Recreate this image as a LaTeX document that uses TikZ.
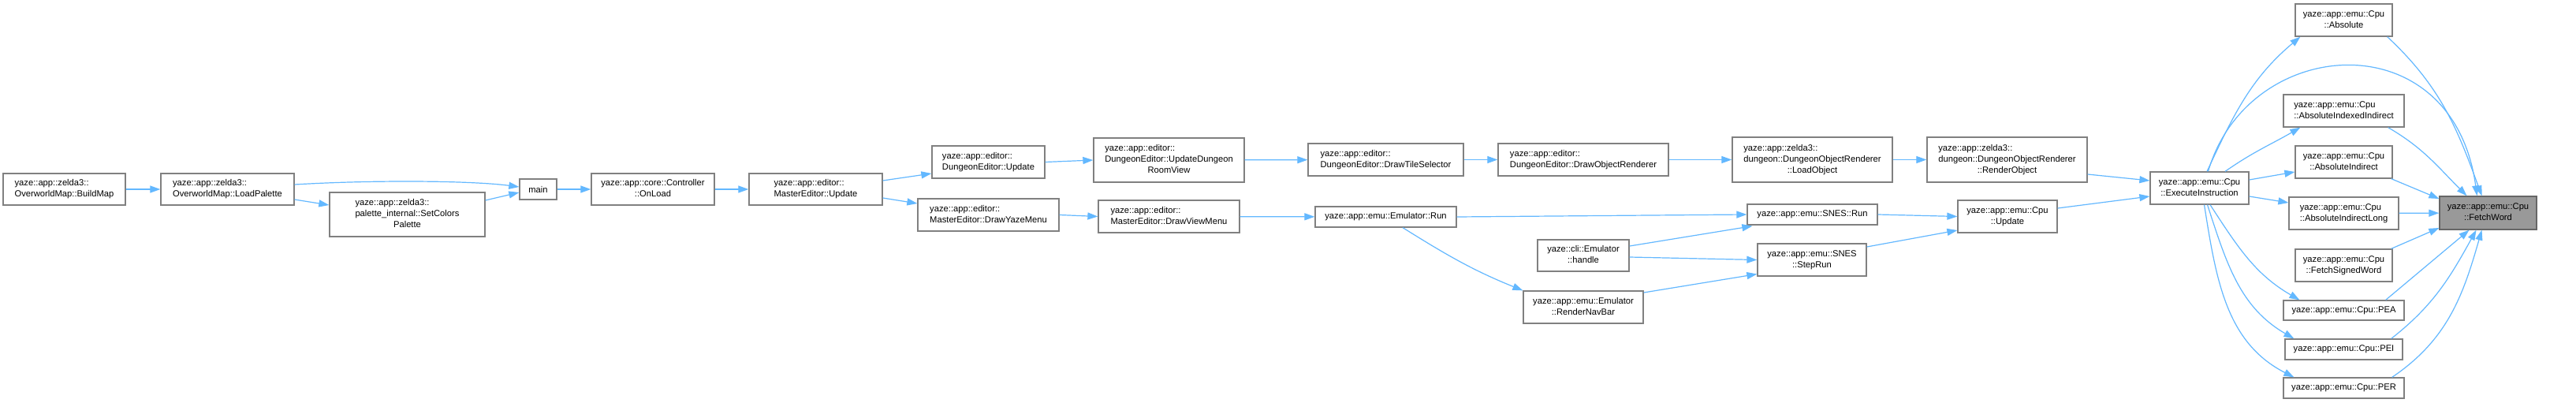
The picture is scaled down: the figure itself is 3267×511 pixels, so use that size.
\documentclass[tikz,border=0pt]{standalone}
\usepackage{fontspec}
\setmainfont{Liberation Sans}
\usetikzlibrary{arrows.meta,calc}
\definecolor{eblue}{HTML}{63B8FF}
\definecolor{bgray}{HTML}{808080}
\definecolor{fgray}{HTML}{999999}
\definecolor{dgray}{HTML}{666666}
\newcommand{\lbtwo}[2]{\begin{tabular}{@{}l@{}}#1\\\multicolumn{1}{@{}c@{}}{#2}\end{tabular}}
\newcommand{\lbthree}[3]{\begin{tabular}{@{}l@{}}#1\\#2\\\multicolumn{1}{@{}c@{}}{#3}\end{tabular}}
\begin{document}
\begin{tikzpicture}[x=1pt,y=-1pt,
  cbox/.style={draw=bgray, line width=1.3pt, fill=white, inner sep=0pt, font=\fontsize{11.2}{14}\selectfont},
  call/.style={draw=eblue, line width=1.2pt, -{Triangle[length=13pt,width=9pt]}},
]
\fill[white] (0,0) rectangle (3267,511);
\useasboundingbox (0,0) rectangle (3267,511);

\node[cbox, minimum width=155pt, minimum height=40pt] (buildmap) at (81.5,240) {\lbtwo{yaze::app::zelda3::}{OverworldMap::BuildMap}};
\node[cbox, minimum width=169pt, minimum height=40pt] (loadpal) at (288.5,240) {\lbtwo{yaze::app::zelda3::}{OverworldMap::LoadPalette}};
\node[cbox, minimum width=197pt, minimum height=56pt] (setcolors) at (516.5,272) {\lbthree{yaze::app::zelda3::}{palette\_internal::SetColors}{Palette}};
\node[cbox, minimum width=47pt, minimum height=26pt] (main) at (682.5,240) {main};
\node[cbox, minimum width=156pt, minimum height=40pt] (onload) at (828,240) {\lbtwo{yaze::app::core::Controller}{::OnLoad}};
\node[cbox, minimum width=169pt, minimum height=40pt] (masterupd) at (1034.5,240) {\lbtwo{yaze::app::editor::}{MasterEditor::Update}};
\node[cbox, minimum width=143pt, minimum height=41pt] (dungupd) at (1253.5,205.5) {\lbtwo{yaze::app::editor::}{DungeonEditor::Update}};
\node[cbox, minimum width=179pt, minimum height=41pt] (yazemenu) at (1253.5,272.5) {\lbtwo{yaze::app::editor::}{MasterEditor::DrawYazeMenu}};
\node[cbox, minimum width=191pt, minimum height=56pt] (roomview) at (1482.5,203) {\lbthree{yaze::app::editor::}{DungeonEditor::UpdateDungeon}{RoomView}};
\node[cbox, minimum width=179pt, minimum height=41pt] (viewmenu) at (1482.5,274.5) {\lbtwo{yaze::app::editor::}{MasterEditor::DrawViewMenu}};
\node[cbox, minimum width=197pt, minimum height=41pt] (tilesel) at (1757.5,202.5) {\lbtwo{yaze::app::editor::}{DungeonEditor::DrawTileSelector}};
\node[cbox, minimum width=216pt, minimum height=41pt] (objrend) at (2008,202.5) {\lbtwo{yaze::app::editor::}{DungeonEditor::DrawObjectRenderer}};
\node[cbox, minimum width=179pt, minimum height=26pt] (emurun) at (1757.5,275) {yaze::app::emu::Emulator::Run};
\node[cbox, minimum width=116pt, minimum height=40pt] (clihandle) at (2008,324) {\lbtwo{yaze::cli::Emulator}{::handle}};
\node[cbox, minimum width=152pt, minimum height=41pt] (navbar) at (2008,389.5) {\lbtwo{yaze::app::emu::Emulator}{::RenderNavBar}};
\node[cbox, minimum width=203pt, minimum height=57pt] (loadobj) at (2298.5,202.5) {\lbthree{yaze::app::zelda3::}{dungeon::DungeonObjectRenderer}{::LoadObject}};
\node[cbox, minimum width=203pt, minimum height=57pt] (renderobj) at (2545.5,202.5) {\lbthree{yaze::app::zelda3::}{dungeon::DungeonObjectRenderer}{::RenderObject}};
\node[cbox, minimum width=165pt, minimum height=26pt] (snesrun) at (2298.5,272) {yaze::app::emu::SNES::Run};
\node[cbox, minimum width=138pt, minimum height=41pt] (steprun) at (2298,329.5) {\lbtwo{yaze::app::emu::SNES}{::StepRun}};
\node[cbox, minimum width=126pt, minimum height=41pt] (cpuupd) at (2546,274.5) {\lbtwo{yaze::app::emu::Cpu}{::Update}};
\node[cbox, minimum width=125pt, minimum height=41pt] (exec) at (2789.5,238.5) {\lbtwo{yaze::app::emu::Cpu}{::ExecuteInstruction}};
\node[cbox, minimum width=123pt, minimum height=41pt] (absolute) at (2972.5,25.5) {\lbtwo{yaze::app::emu::Cpu}{::Absolute}};
\node[cbox, minimum width=153pt, minimum height=41pt] (absidxind) at (2972.5,140.5) {\lbtwo{yaze::app::emu::Cpu}{::AbsoluteIndexedIndirect}};
\node[cbox, minimum width=123pt, minimum height=41pt] (absind) at (2972.5,205.5) {\lbtwo{yaze::app::emu::Cpu}{::AbsoluteIndirect}};
\node[cbox, minimum width=139pt, minimum height=41pt] (absindlong) at (2972.5,270.5) {\lbtwo{yaze::app::emu::Cpu}{::AbsoluteIndirectLong}};
\node[cbox, minimum width=123pt, minimum height=41pt] (fetchsigned) at (2972.5,336.5) {\lbtwo{yaze::app::emu::Cpu}{::FetchSignedWord}};
\node[cbox, minimum width=153pt, minimum height=25pt] (pea) at (2972.5,393.5) {yaze::app::emu::Cpu::PEA};
\node[cbox, minimum width=149pt, minimum height=26pt] (pei) at (2972.5,443) {yaze::app::emu::Cpu::PEI};
\node[cbox, minimum width=153pt, minimum height=26pt] (per) at (2972.5,492) {yaze::app::emu::Cpu::PER};
\node[cbox, draw=dgray, fill=fgray, minimum width=123pt, minimum height=42pt] (fetchword) at (3155.5,270) {\lbtwo{yaze::app::emu::Cpu}{::FetchWord}};

\draw[call] (buildmap) -- (loadpal);
\draw[call] ($(loadpal.east)+(0,-6)$) .. controls +(100,-6) and +(-60,-8) .. ($(main.west)+(0,-3)$);
\draw[call] ($(loadpal.east)+(0,13)$) -- ($(setcolors.west)+(0,-12)$);
\draw[call] ($(setcolors.east)+(0,-18)$) -- ($(main.west)+(0,4)$);
\draw[call] (main) -- (onload);
\draw[call] (onload) -- (masterupd);
\draw[call] ($(masterupd.east)+(0,-11)$) -- ($(dungupd.west)+(0,14.5)$);
\draw[call] ($(masterupd.east)+(0,11)$) -- ($(yazemenu.west)+(0,-14.5)$);
\draw[call] (dungupd.east) -- (roomview.west);
\draw[call] (roomview) -- (tilesel);
\draw[call] (tilesel) -- (objrend);
\draw[call] (objrend) -- (loadobj);
\draw[call] (loadobj) -- (renderobj);
\draw[call] ($(renderobj.east)+(0,18.5)$) -- ($(exec.west)+(0,-9.5)$);
\draw[call] (yazemenu.east) -- (viewmenu.west);
\draw[call] (viewmenu) -- (emurun);
\draw[call] (emurun.east) -- (snesrun.west);
\draw[call] ($(emurun.south)+(21.5,0)$) to[out=-32,in=158] (navbar.north west);
\draw[call] ($(clihandle.east)+(0,-12)$) -- ($(snesrun.south west)+(7,1)$);
\draw[call] ($(clihandle.east)+(0,2)$) -- (steprun.west);
\draw[call] ($(navbar.east)+(0,-18.5)$) -- ($(steprun.west)+(0,18)$);
\draw[call] (snesrun.east) -- (cpuupd.west);
\draw[call] ($(steprun.east)+(0,-16.5)$) -- ($(cpuupd.west)+(0,17.5)$);
\draw[call] ($(cpuupd.east)+(0,-10.5)$) -- ($(exec.west)+(0,10.5)$);

\draw[call] ($(exec.north)+(9.5,0)$) to[out=65,in=-140] ($(absolute.south west)+(7,0)$);
\draw[call] ($(exec.north)+(11,0)$) .. controls +(50,-173) and +(-31,-224) .. ($(fetchword.north)+(-14,0)$);
\draw[call] ($(exec.north)+(32.5,0)$) to[out=35,in=-150] ($(absidxind.south west)+(22,0)$);
\draw[call] ($(exec.east)+(0,-10.5)$) -- ($(absind.west)+(0,12.5)$);
\draw[call] ($(exec.east)+(0,10.5)$) -- ($(absindlong.west)+(0,-13.5)$);
\draw[call] ($(exec.south)+(13.5,0)$) to[out=-57,in=150] ($(pea.north west)+(21,0)$);
\draw[call] ($(exec.south)+(10,0)$) to[out=-72,in=150] ($(pei.north west)+(12,0)$);
\draw[call] ($(exec.south)+(6,0)$) to[out=-81,in=153] ($(per.north west)+(14,0)$);

\draw[call] ($(absolute.south east)+(-7,0)$) to[out=-43,in=110] ($(fetchword.north)+(-8,0)$);
\draw[call] ($(absidxind.south east)+(-21,0)$) to[out=-30,in=135] ($(fetchword.north)+(-27,0)$);
\draw[call] ($(absind.south east)+(-2,0)$) -- ($(fetchword.west)+(0,-18)$);
\draw[call] (absindlong) -- (fetchword);
\draw[call] ($(fetchsigned.north east)+(-2,0)$) -- ($(fetchword.west)+(0,19)$);
\draw[call] ($(pea.north east)+(-24,0)$) -- ($(fetchword.south)+(-24,0)$);
\draw[call] ($(pei.north east)+(-15,0)$) to[out=38,in=-119] ($(fetchword.south)+(-15,0)$);
\draw[call] ($(per.north east)+(-16,0)$) to[out=34,in=-106] ($(fetchword.south)+(-8,0)$);
\end{tikzpicture}
\end{document}
